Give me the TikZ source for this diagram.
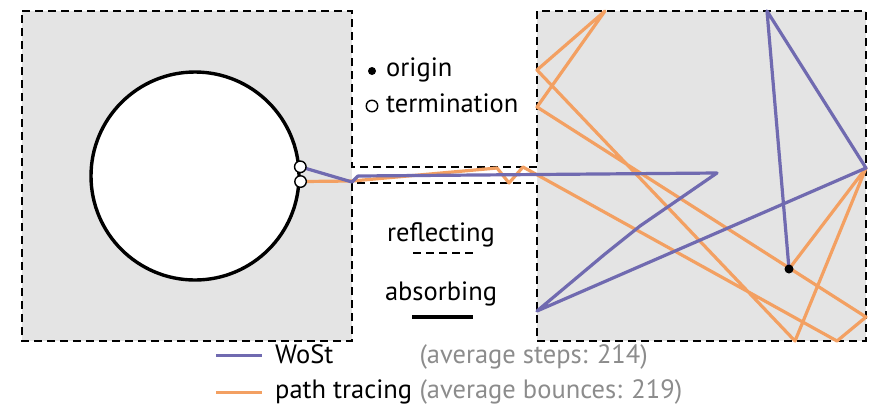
\documentclass[tikz,border=0pt]{standalone}
\usepackage{fontspec}
\setmainfont{PT Sans}
\definecolor{boxgray}{RGB}{228,228,228}
\definecolor{wostc}{RGB}{112,106,176}
\definecolor{ptc}{RGB}{243,160,98}
\definecolor{notegray}{RGB}{140,140,140}
\begin{document}
\begin{tikzpicture}[x=1pt,y=-1pt,
  wall/.style={draw=black, line width=2.6pt, dash pattern=on 8pt off 5pt},
  wost/.style={draw=wostc, line width=3.2pt, line join=round, line cap=round},
  ptrace/.style={draw=ptc, line width=3.2pt, line join=round, line cap=round},
  txt/.style={inner sep=0pt, font=\fontsize{26.5}{31}\selectfont},
  endpt/.style={circle, draw=black, fill=white, line width=1.4pt, minimum size=11.5pt, inner sep=0pt},
  startpt/.style={circle, fill=black, minimum size=9pt, inner sep=0pt}]
\useasboundingbox (0,0) rectangle (872,416);

% grey domains
\fill[boxgray] (22,11) rectangle (352,341);
\fill[boxgray] (537,11) rectangle (866,341);

% absorbing disk
\node[circle, draw=black, line width=3.4pt, fill=white, minimum size=208pt, inner sep=0pt] (disk) at (195,176) {};

% reflecting walls: left box, corridor, right box
\draw[wall] (22,11) -- (352,11) -- (352,167) -- (537,167) -- (537,11) -- (866,11)
  -- (866,341) -- (537,341) -- (537,183) -- (352,183) -- (352,341) -- (22,341) -- cycle;

% walk end points
\coordinate (orig) at (789,269);
\coordinate (endW) at (disk.5);
\coordinate (endP) at (disk.-3.5);

% path tracing walk
\draw[ptrace] (orig) -- (866,168) -- (795,341) -- (537,70) -- (605,11) -- (537,107)
  -- (866,317) -- (837,341) -- (523,167) -- (509,183) -- (497,168) -- (352,181) -- (endP);

% walk on stars
\draw[wost] (orig) -- (767,11) -- (866,168) -- (537,311) -- (605,254) -- (640,226)
  -- (717,173) -- (358,176) -- (352,182) -- (endW);

\node[endpt] (termW) at (endW) {};
\node[endpt] (termP) at (endP) {};
\node[startpt] (origdot) at (orig) {};

% marker key
\node[startpt, minimum size=8pt] (keyO) at (372,71) {};
\node[txt, anchor=base west] (lorigin) at (386,76) {origin};
\node[endpt] (keyT) at (372,106) {};
\node[txt, anchor=base west] (lterm) at (386,112) {termination};

% boundary key
\node[txt, anchor=base] (lrefl) at (441,241) {reflecting};
\coordinate (rA) at (413,253);
\coordinate (rB) at (473,253);
\draw[line width=2.4pt, dash pattern=on 8pt off 5pt] (rA) -- (rB);
\node[txt, anchor=base] (labs) at (441,300) {absorbing};
\coordinate (aA) at (412,317);
\coordinate (aB) at (473,317);
\draw[line width=3.2pt] (aA) -- (aB);

% legend
\coordinate (wA) at (216,355);
\coordinate (wB) at (262,355);
\coordinate (pA) at (216,392);
\coordinate (pB) at (262,392);
\draw[wostc, line width=3pt] (wA) -- (wB);
\draw[ptc, line width=3pt] (pA) -- (pB);
\node[txt, anchor=base west] (lwost) at (275,363) {WoSt};
\node[txt, anchor=base west] (lpt) at (275,398) {path tracing};
\node[txt, anchor=base west, text=notegray] (nwost) at ([xshift=7pt]lpt.base east |- lwost.base) {(average steps: 214)};
\node[txt, anchor=base west, text=notegray] (npt) at ([xshift=7pt]lpt.base east) {(average bounces: 219)};
\end{tikzpicture}
\end{document}
